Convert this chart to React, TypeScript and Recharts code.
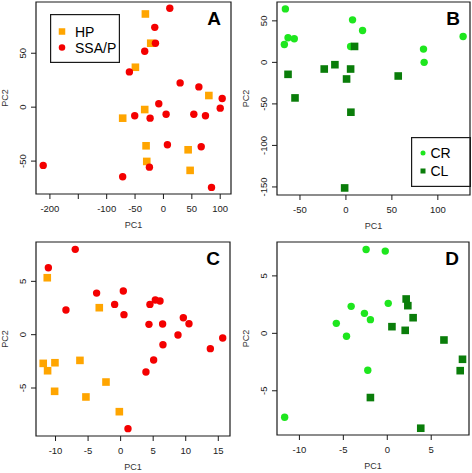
import React from 'react';
import { ScatterChart, Scatter, XAxis, YAxis, ReferenceArea, Legend } from 'recharts';

const FONT = '"Liberation Sans", Arial, Helvetica, sans-serif';
const INK = '#1a1a1a';

const ORANGE = '#ffa500';
const RED = '#f40000';
const LIGHT_GREEN = '#1ee61e';
const DARK_GREEN = '#0a7d0a';

// ── Panel A: HP vs SSA/P ─────────────────────────────────────────────────────
const aHpX = [-31.8, -22.4, -49.4, -33, -71.8, 80, -30.6, -29.4, 43.5, 47];
const aHpY = [86.4, 59.3, 37, -2.2, -10.2, 10.8, -35.8, -50.3, -39.5, -58.6];
const aSsaX = [11.2, -15.3, -14.1, -33, -60, 29.4, 62.4, 103.5, 100, -8.2, -50.6, -23.5, 4.7, 53.5, 74, 7, 66.5, -211.8, -24.7, -71.8, 84.7];
const aSsaY = [91.7, 74, 59.3, 51.9, 32.7, 22.5, 18.8, 8, -0.9, 3.1, -8, -10.2, -6.5, -6.5, -8, -34.9, -36.7, -54, -55.6, -64.5, -74.4];
const aXTicks = [-200, -150, -100, -50, 0, 50, 100];
const aXTickLabels = ['-200', '', '-100', '-50', '0', '50', '100'];
const aYTicks = [-50, 0, 50];

// ── Panel B: CR vs CL ────────────────────────────────────────────────────────
const bCrX = [-65.9, -63, -56.2, -67, 7.2, 18.1, 5.1, 84.4, 85.1, 127.5];
const bCrY = [64.4, 29.6, 28.4, 21.6, 51.2, 38.4, 19.2, 16, 0, 31.2];
const bClX = [-63, -55.4, -23.6, -12, 0.7, 5.1, 9.4, 56.9, 5.4, -1.4];
const bClY = [-14.4, -42.8, -8, -2.8, -20, -8, 19.2, -16.4, -60, -151.2];
const bXTicks = [-50, 0, 50, 100];
const bYTicks = [-150, -100, -50, 0, 50];

// ── Panel C: HP vs SSA/P ─────────────────────────────────────────────────────
const cSsaX = [-6.97, -11.1, -8.4, -3.69, 0.41, -0.92, 0.51, 4.5, 5.33, 6.05, 4.35, 6.45, 9.63, 10.5, 8.81, 15.68, 13.78, 6.5, 5.07, 3.89, 1.13];
const cSsaY = [8.0, 6.28, 2.31, 3.9, 4.09, 2.84, 1.88, 2.84, 3.25, 3.16, 0.97, 1.0, 1.59, 1.03, -0.03, -0.31, -1.31, -0.94, -2.38, -3.5, -8.81];
const cHpX = [-11.27, -3.28, -11.89, -10.09, -11.22, -6.25, -10.14, -2.25, -5.33, -0.2];
const cHpY = [5.34, 2.53, -2.69, -2.63, -3.38, -2.41, -5.31, -4.44, -5.84, -7.22];
const cXTicks = [-10, -5, 0, 5, 10, 15];
const cYTicks = [-5, 0, 5];

// ── Panel D: CR vs CL ────────────────────────────────────────────────────────
const dCrX = [-2.41, -0.23, -4.11, -2.6, -1.92, 0.11, -5.8, -4.64, -2.22, -11.68];
const dCrY = [7.3, 7.16, 2.35, 1.74, 1.19, 2.61, 0.87, -0.26, -3.22, -7.3];
const dClX = [2.15, 2.34, 2.94, 0.53, 2.04, 6.45, 8.56, 8.3, -1.92, 3.81];
const dClY = [2.99, 2.41, 1.36, 0.58, 0.26, -0.58, -2.26, -3.25, -5.59, -8.26];
const dXTicks = [-10, -5, 0, 5];
const dYTicks = [-5, 0, 5];

const zip = (xs: number[], ys: number[]) => xs.map((x, i) => ({ x, y: ys[i] }));

type Series = { name: string; data: { x: number; y: number }[]; color: string; shape: 'circle' | 'square' };
type LegendSpec = { left: number; top: number; width: number; height: number; markerX: number; textX: number; rows: number[]; marker: number; fontSize: number };
type PanelProps = {
  letter: string;
  width: number;
  height: number;
  top: number;
  right: number;
  yAxisWidth: number;
  xAxisHeight: number;
  xDomain: [number, number];
  yDomain: [number, number];
  xTicks: number[];
  xTickLabels?: string[];
  yTicks: number[];
  series: Series[];
  legend?: LegendSpec;
};

function drawPoint(p: any, s: Series) {
  if (p.cx == null || p.cy == null) return <g />;
  if (s.shape === 'square') {
    return <rect x={p.cx - 3.8} y={p.cy - 3.8} width={7.6} height={7.6} fill={s.color} />;
  }
  return <circle cx={p.cx} cy={p.cy} r={3.7} fill={s.color} />;
}

function LegendBox({ payload, spec, order }: { payload?: any[]; spec: LegendSpec; order: string[] }) {
  const items = order.map((name) => (payload || []).find((e) => e.value === name)).filter(Boolean);
  const m = spec.marker;
  return (
    <svg width={spec.width} height={spec.height} style={{ display: 'block' }}>
      <rect x={0.6} y={0.6} width={spec.width - 1.2} height={spec.height - 1.2} fill="none" stroke={INK} strokeWidth={1.2} />
      {items.map((e: any, i: number) => (
        <g key={e.value}>
          {e.type === 'square' ? (
            <rect x={spec.markerX - m / 2} y={spec.rows[i] - m / 2} width={m} height={m} fill={e.color} />
          ) : (
            <circle cx={spec.markerX} cy={spec.rows[i]} r={m / 2} fill={e.color} />
          )}
          <text x={spec.textX} y={spec.rows[i]} dominantBaseline="central" fontSize={spec.fontSize} fontFamily={FONT} fill="#000">
            {e.value}
          </text>
        </g>
      ))}
    </svg>
  );
}

function Panel(props: PanelProps) {
  const { letter, width, height, top, right, yAxisWidth, xAxisHeight, xDomain, yDomain, xTicks, xTickLabels, yTicks, series, legend } = props;
  const xLabel = (v: number) => (xTickLabels ? xTickLabels[xTicks.indexOf(v)] : String(v));
  return (
    <ScatterChart width={width} height={height} margin={{ top, right, bottom: 0, left: 0 }}>
      <XAxis
        type="number"
        dataKey="x"
        domain={xDomain}
        ticks={xTicks}
        interval={0}
        allowDataOverflow
        axisLine={false}
        tickSize={5}
        tickMargin={0}
        tickLine={{ stroke: INK, strokeWidth: 1 }}
        height={xAxisHeight}
        tick={(t: any) => (
          <text x={t.x} y={t.y + 9.5} textAnchor="middle" dominantBaseline="central" fontSize={9.5} fontFamily={FONT} fill="#222">
            {xLabel(t.payload.value)}
          </text>
        )}
        label={{ value: 'PC1', position: 'insideBottom', offset: xAxisHeight - 34, fontSize: 9, fontFamily: FONT, fill: '#333' }}
      />
      <YAxis
        type="number"
        dataKey="y"
        domain={yDomain}
        ticks={yTicks}
        interval={0}
        allowDataOverflow
        axisLine={false}
        tickSize={5}
        tickMargin={0}
        tickLine={{ stroke: INK, strokeWidth: 1 }}
        width={yAxisWidth}
        tick={(t: any) => (
          <text x={t.x - 8} y={t.y} transform={`rotate(-90, ${t.x - 8}, ${t.y})`} textAnchor="middle" dominantBaseline="central" fontSize={9.5} fontFamily={FONT} fill="#222">
            {t.payload.value}
          </text>
        )}
        label={{ value: 'PC2', angle: -90, position: 'insideLeft', offset: yAxisWidth - 31, fontSize: 9, fontFamily: FONT, fill: '#333', style: { textAnchor: 'middle' } }}
      />
      <ReferenceArea
        x1={xDomain[0]}
        x2={xDomain[1]}
        y1={yDomain[0]}
        y2={yDomain[1]}
        fill="none"
        stroke={INK}
        strokeWidth={1.2}
        ifOverflow="visible"
        label={{ value: letter, position: 'insideTopRight', offset: 10, fontSize: 19, fontWeight: 'bold', fontFamily: FONT, fill: '#000' }}
      />
      {series.map((s) => (
        <Scatter
          key={s.name}
          name={s.name}
          data={s.data}
          fill={s.color}
          legendType={s.shape}
          isAnimationActive={false}
          shape={(p: any) => drawPoint(p, s)}
        />
      ))}
      {legend && (
        <Legend
          layout="vertical"
          align="center"
          verticalAlign="middle"
          wrapperStyle={{ left: legend.left, top: legend.top, width: legend.width, height: legend.height }}
          content={(lp: any) => <LegendBox payload={lp.payload} spec={legend} order={series.map((s) => s.name)} />}
        />
      )}
    </ScatterChart>
  );
}

export default function App() {
  return (
    <div style={{ position: 'absolute', left: 0, top: 0, width: 472, height: 473, background: '#fff' }}>
      <div style={{ position: 'absolute', left: 0, top: 0 }}>
        <Panel
          letter="A"
          width={236}
          height={236}
          top={2}
          right={5}
          yAxisWidth={36}
          xAxisHeight={42}
          xDomain={[-224.5, 119]}
          yDomain={[-80.5, 97.5]}
          xTicks={aXTicks}
          xTickLabels={aXTickLabels}
          yTicks={aYTicks}
          series={[
            { name: 'HP', data: zip(aHpX, aHpY), color: ORANGE, shape: 'square' },
            { name: 'SSA/P', data: zip(aSsaX, aSsaY), color: RED, shape: 'circle' },
          ]}
          legend={{ left: 50, top: 14, width: 70, height: 49, markerX: 12, textX: 25, rows: [17.5, 33.5], marker: 6.5, fontSize: 14 }}
        />
      </div>
      <div style={{ position: 'absolute', left: 236, top: 0 }}>
        <Panel
          letter="B"
          width={236}
          height={236}
          top={2}
          right={2}
          yAxisWidth={41}
          xAxisHeight={41}
          xDomain={[-75, 135]}
          yDomain={[-159.7, 72.7]}
          xTicks={bXTicks}
          yTicks={bYTicks}
          series={[
            { name: 'CR', data: zip(bCrX, bCrY), color: LIGHT_GREEN, shape: 'circle' },
            { name: 'CL', data: zip(bClX, bClY), color: DARK_GREEN, shape: 'square' },
          ]}
          legend={{ left: 175, top: 137, width: 60, height: 50, markerX: 12, textX: 19.5, rows: [16, 34], marker: 5, fontSize: 14 }}
        />
      </div>
      <div style={{ position: 'absolute', left: 0, top: 236 }}>
        <Panel
          letter="C"
          width={236}
          height={237}
          top={6}
          right={6}
          yAxisWidth={36}
          xAxisHeight={37}
          xDomain={[-13.0, 16.8]}
          yDomain={[-9.5, 8.69]}
          xTicks={cXTicks}
          yTicks={cYTicks}
          series={[
            { name: 'HP', data: zip(cHpX, cHpY), color: ORANGE, shape: 'square' },
            { name: 'SSA/P', data: zip(cSsaX, cSsaY), color: RED, shape: 'circle' },
          ]}
        />
      </div>
      <div style={{ position: 'absolute', left: 236, top: 236 }}>
        <Panel
          letter="D"
          width={236}
          height={237}
          top={6}
          right={3}
          yAxisWidth={41}
          xAxisHeight={38}
          xDomain={[-12.55, 9.3]}
          yDomain={[-8.85, 7.95]}
          xTicks={dXTicks}
          yTicks={dYTicks}
          series={[
            { name: 'CR', data: zip(dCrX, dCrY), color: LIGHT_GREEN, shape: 'circle' },
            { name: 'CL', data: zip(dClX, dClY), color: DARK_GREEN, shape: 'square' },
          ]}
        />
      </div>
    </div>
  );
}
